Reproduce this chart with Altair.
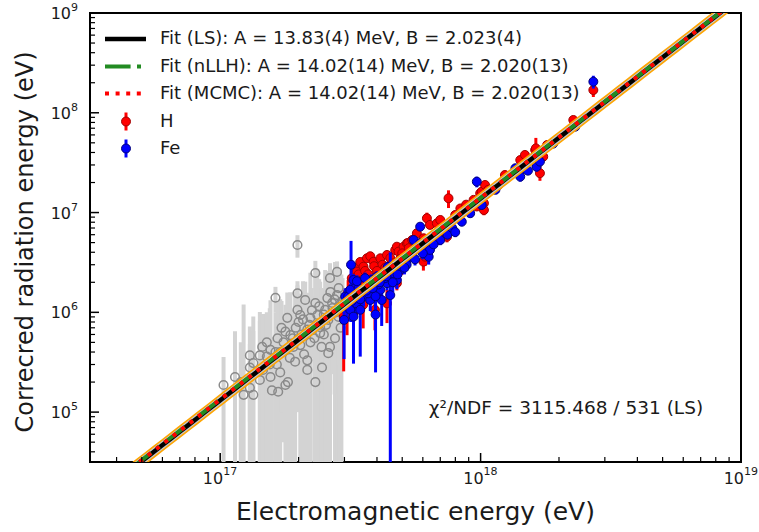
import altair as alt
import pandas as pd
import numpy as np

# ---------------- data (E_em in 1e17 eV, E_rad in MeV) ----------------
gray_x = [1.03, 1.14, 1.23, 1.30, 1.34, 1.30, 1.30, 1.34, 1.42, 1.42, 1.46, 1.51, 1.51, 1.56, 1.56,
          1.58, 1.63, 1.63, 1.66, 1.67, 1.70, 1.70, 1.78, 1.78, 1.82, 1.81, 1.86, 1.91, 1.94, 1.98,
          1.98, 1.98, 2.03, 2.03, 2.05, 2.12, 2.16, 2.16, 2.16, 2.22, 2.22, 2.32, 2.32, 2.32, 2.36,
          2.42, 2.42, 2.46, 2.53, 2.58, 2.60, 2.60, 2.64, 2.64, 2.69, 2.76, 2.76, 2.81, 2.81, 2.88,
          2.90, 2.95, 2.00, 2.20, 2.50, 2.70, 1.75, 2.30, 2.50, 1.20, 1.90, 2.85, 1.45, 1.55, 1.65,
          1.72, 1.85, 1.95, 2.08, 2.25, 2.40, 2.55, 2.65, 2.75, 2.85, 2.92, 2.10, 2.45]
gray_y = [0.187, 0.225, 0.149, 0.175, 0.149, 0.28, 0.37, 0.31, 0.21, 0.37, 0.265, 0.36, 0.50, 0.42, 0.225,
          0.165, 1.40, 0.40, 0.55, 0.16, 0.40, 0.25, 0.64, 0.187, 0.20, 0.88, 0.59, 0.45, 0.32, 1.55,
          4.73, 1.06, 0.94, 0.47, 0.60, 1.33, 0.67, 0.33, 0.265, 0.50, 0.88, 2.48, 1.24, 0.20, 0.94,
          0.71, 0.62, 0.28, 1.06, 1.39, 0.84, 0.39, 2.21, 0.45, 1.24, 0.99, 0.55, 2.54, 1.49, 1.20,
          0.70, 1.30, 0.80, 0.75, 0.95, 1.10, 0.50, 0.55, 0.60, 0.20, 0.55, 0.90, 0.45, 0.30, 0.30,
          0.70, 0.35, 0.70, 0.85, 1.05, 1.15, 0.75, 1.60, 1.35, 1.75, 1.00, 0.38, 0.45]
gray_err = [0.17, 0.42, 1.05, 0.15, 0.50, 0.20, 0.35, 0.60, 0.80, 0.45, 0.70, 0.30, 0.50, 0.90, 0.25,
            0.40, 0.40, 0.60, 0.75, 0.20, 0.35, 1.10, 0.55, 0.30, 0.90, 0.70, 1.00, 0.60, 1.30, 0.50,
            1.20, 0.80, 0.60, 1.00, 0.40, 0.70, 0.90, 0.35, 1.20, 2.00, 0.50, 0.80, 1.50, 0.25, 1.80,
            0.60, 1.40, 0.50, 1.60, 1.20, 1.30, 0.70, 0.90, 2.20, 1.00, 2.20, 0.80, 0.70, 1.70, 1.50,
            1.30, 0.90, 0.70, 0.40, 0.60, 0.50, 0.45, 0.90, 1.10, 0.30, 0.50, 0.60, 0.50, 0.80, 0.40,
            0.60, 1.00, 0.50, 1.20, 0.70, 1.00, 1.50, 0.90, 1.20, 0.80, 1.40, 0.60, 1.30]

h_x = [2.98, 3.07, 3.30, 3.35, 3.45, 3.54, 3.55, 3.66, 3.77, 3.88, 3.93, 4.12, 4.37, 4.37, 4.56,
       4.70, 4.77, 4.77, 4.84, 4.98, 5.06, 5.21, 5.27, 5.46, 5.69, 5.77, 6.03, 6.04, 6.13, 6.22,
       6.39, 6.79, 7.00, 7.20, 7.43, 7.43, 7.53, 7.99, 8.36, 9.40, 9.67, 9.96, 10.1, 10.3, 10.3,
       10.4, 10.7, 11.7, 12.4, 14.2, 14.8, 16.2, 16.3, 16.9, 17.4, 18.0, 22.7, 27.1, 3.20, 3.40,
       3.60, 3.90, 4.20, 4.50, 5.00, 5.30, 5.60, 3.10, 3.25, 8.80, 6.50, 3.30, 3.50, 3.70, 4.00,
       4.30, 4.60, 4.90, 5.40, 5.80, 3.15, 3.35]
h_y = [0.906, 1.14, 2.79, 2.56, 3.20, 1.19, 2.87, 3.48, 3.65, 3.22, 1.06, 3.48, 3.76, 1.23, 3.22,
       4.20, 1.96, 4.55, 4.06, 2.87, 4.55, 4.92, 4.97, 5.31, 6.20, 4.39, 3.22, 5.53, 3.61, 8.77,
       7.52, 7.80, 8.43, 6.44, 6.70, 5.73, 13.9, 9.46, 11.0, 13.4, 11.5, 15.6, 16.2, 12.4, 10.6,
       18.9, 16.9, 18.9, 23.8, 33.6, 37.8, 42.4, 44.0, 24.8, 36.3, 47.5, 84.7, 169.0, 2.20, 2.40,
       2.60, 2.90, 3.00, 3.50, 3.90, 4.40, 5.00, 1.60, 1.00, 12.0, 5.60, 1.90, 2.10, 2.40, 2.60,
       2.80, 3.10, 3.40, 3.80, 4.80, 1.30, 1.50]
h_err = [0.65, 0.55, 0.30, 0.25, 0.30, 0.50, 0.25, 0.30, 0.35, 0.25, 0.40, 0.30, 0.35, 0.45, 0.30,
         0.40, 0.30, 0.35, 0.35, 0.50, 0.40, 0.40, 0.45, 0.45, 0.50, 0.40, 0.60, 0.50, 0.70, 1.20,
         0.70, 0.70, 0.80, 0.60, 0.60, 0.70, 2.80, 0.90, 1.00, 1.20, 1.00, 1.30, 1.40, 1.10, 1.20,
         1.60, 1.50, 1.70, 2.00, 3.00, 3.50, 3.50, 12.0, 4.00, 3.50, 4.00, 8.00, 25.0, 0.25, 0.30,
         0.40, 0.30, 0.35, 0.40, 0.40, 0.45, 0.50, 0.50, 0.55, 1.10, 0.60, 0.30, 0.30, 0.30, 0.35,
         0.35, 0.40, 0.40, 0.45, 0.50, 0.45, 0.40]

fe_x = [2.99, 3.02, 3.07, 3.10, 3.16, 3.16, 3.18, 3.25, 3.25, 3.33, 3.40, 3.45, 3.55, 3.66, 3.77,
        3.88, 4.00, 4.11, 4.12, 4.17, 4.24, 4.37, 4.50, 4.50, 4.63, 4.77, 4.91, 4.91, 5.06, 5.06,
        5.36, 5.53, 5.86, 5.86, 6.32, 6.32, 6.39, 6.79, 7.00, 7.46, 7.78, 7.99, 8.47, 9.12, 9.67,
        10.1, 11.4, 13.6, 14.2, 14.2, 15.2, 16.4, 16.4, 16.9, 19.0, 23.1, 27.1, 3.30, 3.50, 3.70,
        3.80, 4.05, 4.30, 4.60, 3.95, 3.35, 3.60, 4.40, 5.20, 5.50, 3.95, 3.05, 3.20, 3.45, 3.65,
        3.85, 4.10, 4.35, 4.80, 5.10, 5.60, 6.00, 6.60]
fe_y = [0.84, 1.44, 1.14, 1.44, 1.68, 1.06, 3.00, 2.11, 0.906, 1.23, 1.74, 1.06, 1.44, 1.81, 1.33,
        1.96, 2.28, 2.28, 1.68, 1.33, 2.46, 1.96, 1.49, 2.66, 2.46, 2.11, 2.66, 2.87, 3.10, 3.35,
        3.61, 5.31, 4.93, 7.22, 4.55, 3.61, 4.22, 5.31, 5.31, 6.00, 7.00, 6.37, 8.10, 9.84, 20.4,
        11.9, 16.9, 27.8, 26.3, 22.9, 26.3, 30.0, 28.8, 32.4, 49.1, 72.6, 205.0, 1.50, 1.60, 1.55,
        2.10, 1.90, 2.20, 2.00, 1.45, 2.05, 2.20, 2.85, 3.00, 4.00, 0.95, 1.25, 1.30, 1.35, 1.65,
        1.75, 2.00, 2.30, 2.40, 2.80, 3.40, 3.90, 4.80]
fe_err = [0.50, 0.30, 0.25, 0.25, 0.25, 0.25, 2.20, 0.30, 0.60, 0.25, 0.25, 0.70, 0.30, 0.30, 0.30,
          0.30, 0.30, 0.30, 0.30, 0.60, 0.30, 0.30, 2.50, 0.30, 0.30, 0.40, 0.35, 0.35, 0.35, 0.35,
          0.40, 0.45, 0.50, 0.60, 0.50, 0.60, 0.50, 0.55, 0.60, 0.60, 0.70, 0.70, 0.80, 0.90, 2.50,
          1.10, 1.50, 2.50, 2.50, 2.50, 2.50, 3.00, 3.00, 3.00, 4.50, 6.00, 30.0, 0.25, 0.25, 0.30,
          0.30, 0.30, 0.35, 0.40, 0.35, 0.30, 0.30, 0.35, 0.40, 0.50, 0.70, 0.25, 0.25, 0.30, 0.30,
          0.30, 0.30, 0.35, 0.40, 0.40, 0.45, 0.50, 0.55]

fit_ls = (13.83, 2.023)     # A [MeV], B
fit_nllh = (14.02, 2.020)
fit_mcmc = (14.02, 2.020)
band_factor = 1.16

legend_labels = ["Fit (LS): A = 13.83(4) MeV, B = 2.023(4)",
                 "Fit (nLLH): A = 14.02(14) MeV, B = 2.020(13)",
                 "Fit (MCMC): A = 14.02(14) MeV, B = 2.020(13)",
                 "H", "Fe"]
chi2_text = "χ²/NDF = 3115.468 / 531 (LS)"
x_title = "Electromagnetic energy (eV)"
y_title = "Correcred radiation energy (eV)"

x_major = [17, 18, 19]
y_major = [5, 6, 7, 8, 9]

# ---------------- layout ----------------
XMIN, XMAX = 10 ** 16.5, 1e19
YMIN, YMAX = 10 ** 4.5, 1e9
W, H = 651, 449
FONT = "DejaVu Sans"
TXT = "#1a1a1a"

xs = alt.Scale(type="log", domain=[XMIN, XMAX])
ys = alt.Scale(type="log", domain=[YMIN, YMAX])


def points_df(x, y, e):
    xv = np.array(x) * 1e17
    yv = np.array(y) * 1e6
    ev = np.array(e) * 1e6
    lo = np.maximum(yv - ev, YMIN * 0.5)
    return pd.DataFrame({"x": xv, "y": yv, "lo": lo, "hi": yv + ev})


gray = points_df(gray_x, gray_y, gray_err)
hdf = points_df(h_x, h_y, h_err)
fedf = points_df(fe_x, fe_y, fe_err)

xgrid = np.logspace(16.4, 19.1, 80)


def fit_df(p):
    A, B = p
    y = A * 1e6 * (xgrid / 1e18) ** B
    return pd.DataFrame({"x": xgrid, "y": y, "lo": y / band_factor, "hi": y * band_factor})


ls = fit_df(fit_ls)
nllh = fit_df(fit_nllh)
mcmc = fit_df(fit_mcmc)

X = alt.X("x:Q", scale=xs, axis=None)
Y = alt.Y("y:Q", scale=ys, axis=None)

layers = []

# gray error bars and points
layers.append(alt.Chart(gray).mark_rule(color="#d3d3d3", strokeWidth=4, clip=True).encode(
    x=X, y=alt.Y("lo:Q", scale=ys, axis=None), y2="hi:Q"))
layers.append(alt.Chart(gray).mark_point(shape="circle", filled=False, stroke="#8a8a8a", strokeWidth=1.5,
                                         size=75, opacity=1, clip=True).encode(x=X, y=Y))
# H
layers.append(alt.Chart(hdf).mark_rule(color="#ff0000", strokeWidth=3, clip=True).encode(
    x=X, y=alt.Y("lo:Q", scale=ys, axis=None), y2="hi:Q"))
layers.append(alt.Chart(hdf).mark_point(shape="circle", filled=True, fill="#ff0000", stroke="#a00000",
                                        strokeWidth=1, size=80, opacity=1, clip=True).encode(x=X, y=Y))
# Fe
layers.append(alt.Chart(fedf).mark_rule(color="#0000ff", strokeWidth=3, clip=True).encode(
    x=X, y=alt.Y("lo:Q", scale=ys, axis=None), y2="hi:Q"))
layers.append(alt.Chart(fedf).mark_point(shape="circle", filled=True, fill="#0000ff", stroke="#00007a",
                                         strokeWidth=1, size=80, opacity=1, clip=True).encode(x=X, y=Y))
# band and fits
layers.append(alt.Chart(ls).mark_area(color="#ffa500", opacity=1, clip=True).encode(
    x=X, y=alt.Y("lo:Q", scale=ys, axis=None), y2="hi:Q"))
layers.append(alt.Chart(ls).mark_line(color="#c8c8c8", strokeWidth=7, clip=True).encode(x=X, y=Y))
layers.append(alt.Chart(ls).mark_line(color="black", strokeWidth=4.5, clip=True).encode(x=X, y=Y))
layers.append(alt.Chart(nllh).mark_line(color="#228b22", strokeWidth=4, strokeDash=[25.6, 6.4, 4, 6.4],
                                        clip=True).encode(x=X, y=Y))
layers.append(alt.Chart(mcmc).mark_line(color="#ff0000", strokeWidth=4, strokeDash=[4, 6.6],
                                        clip=True).encode(x=X, y=Y))

# inward ticks
xminor = [m * 10 ** e for e in [16, 17, 18] for m in range(2, 10) if XMIN <= m * 10 ** e <= XMAX]
yminor = [m * 10 ** e for e in [4, 5, 6, 7, 8] for m in range(2, 10) if YMIN <= m * 10 ** e <= YMAX]
xmaj = pd.DataFrame({"x": [10.0 ** e for e in x_major], "e": [str(e) for e in x_major]})
ymaj = pd.DataFrame({"y": [10.0 ** e for e in y_major], "e": [str(e) for e in y_major]})
xmin_df = pd.DataFrame({"x": xminor})
ymin_df = pd.DataFrame({"y": yminor})

layers.append(alt.Chart(xmaj).mark_rule(color="black", strokeWidth=1.5).encode(
    x=X, y=alt.value(H), y2=alt.value(H - 9)))
layers.append(alt.Chart(xmin_df).mark_rule(color="black", strokeWidth=1.2).encode(
    x=X, y=alt.value(H), y2=alt.value(H - 5)))
layers.append(alt.Chart(ymaj).mark_rule(color="black", strokeWidth=1.5).encode(
    y=Y, x=alt.value(0), x2=alt.value(9)))
layers.append(alt.Chart(ymin_df).mark_rule(color="black", strokeWidth=1.2).encode(
    y=Y, x=alt.value(0), x2=alt.value(5)))

# tick labels (10 + superscript)
layers.append(alt.Chart(xmaj).mark_text(text="10", font=FONT, fontSize=16, align="right", baseline="middle",
                                        dx=3, color=TXT).encode(x=X, y=alt.value(H + 17)))
layers.append(alt.Chart(xmaj).mark_text(font=FONT, fontSize=11, align="left", baseline="middle",
                                        dx=3, color=TXT).encode(x=X, y=alt.value(H + 10), text="e:N"))
layers.append(alt.Chart(ymaj).mark_text(text="10", font=FONT, fontSize=16, align="right", baseline="middle",
                                        dy=1, color=TXT).encode(y=Y, x=alt.value(-19)))
layers.append(alt.Chart(ymaj).mark_text(font=FONT, fontSize=11, align="left", baseline="middle",
                                        dy=-5, color=TXT).encode(y=Y, x=alt.value(-19), text="e:N"))

one = pd.DataFrame({"a": [0]})
# axis titles
layers.append(alt.Chart(one).mark_text(text=x_title, font=FONT, fontSize=25, align="center",
                                       baseline="alphabetic", color=TXT).encode(
    x=alt.value(W / 2), y=alt.value(507)))
layers.append(alt.Chart(one).mark_text(text=y_title, font=FONT, fontSize=24, align="center", angle=270,
                                       baseline="alphabetic", color=TXT).encode(
    x=alt.value(-57), y=alt.value(229)))

# legend
LX0, LX1, TX = 15, 56, 70
ly = [26, 53.5, 80.5, 108.5, 135.5]
layers.append(alt.Chart(one).mark_rule(color="black", strokeWidth=4.5).encode(
    x=alt.value(LX0), x2=alt.value(LX1), y=alt.value(ly[0])))
layers.append(alt.Chart(one).mark_rule(color="#228b22", strokeWidth=4, strokeDash=[25.6, 6.4, 4, 6.4]).encode(
    x=alt.value(LX0), x2=alt.value(LX1), y=alt.value(ly[1])))
layers.append(alt.Chart(one).mark_rule(color="#ff0000", strokeWidth=4, strokeDash=[4, 6.6]).encode(
    x=alt.value(LX0), x2=alt.value(LX1), y=alt.value(ly[2])))
for yy, fill, edge in [(ly[3], "#ff0000", "#a00000"), (ly[4], "#0000ff", "#00007a")]:
    layers.append(alt.Chart(one).mark_rule(color=fill, strokeWidth=3).encode(
        x=alt.value(36), y=alt.value(yy - 9), y2=alt.value(yy + 9)))
    layers.append(alt.Chart(one).mark_point(shape="circle", filled=True, fill=fill, stroke=edge, strokeWidth=1,
                                            size=80, opacity=1).encode(x=alt.value(36), y=alt.value(yy)))
for txt, yy in zip(legend_labels, ly):
    layers.append(alt.Chart(one).mark_text(text=txt, font=FONT, fontSize=18, align="left", baseline="middle",
                                           color=TXT).encode(x=alt.value(TX), y=alt.value(yy)))

layers.append(alt.Chart(one).mark_text(text=chi2_text, font=FONT, fontSize=18.5, align="center",
                                       baseline="middle", color=TXT).encode(
    x=alt.value(476), y=alt.value(395)))

chart = alt.layer(*layers).properties(
    width=W, height=H,
    padding={"left": 90, "top": 13, "right": 18, "bottom": 70},
    autosize=alt.AutoSizeParams(type="none"),
).configure_view(stroke="black", strokeWidth=2)

chart.save("out.html", embed_options={"renderer": "svg", "actions": False})
